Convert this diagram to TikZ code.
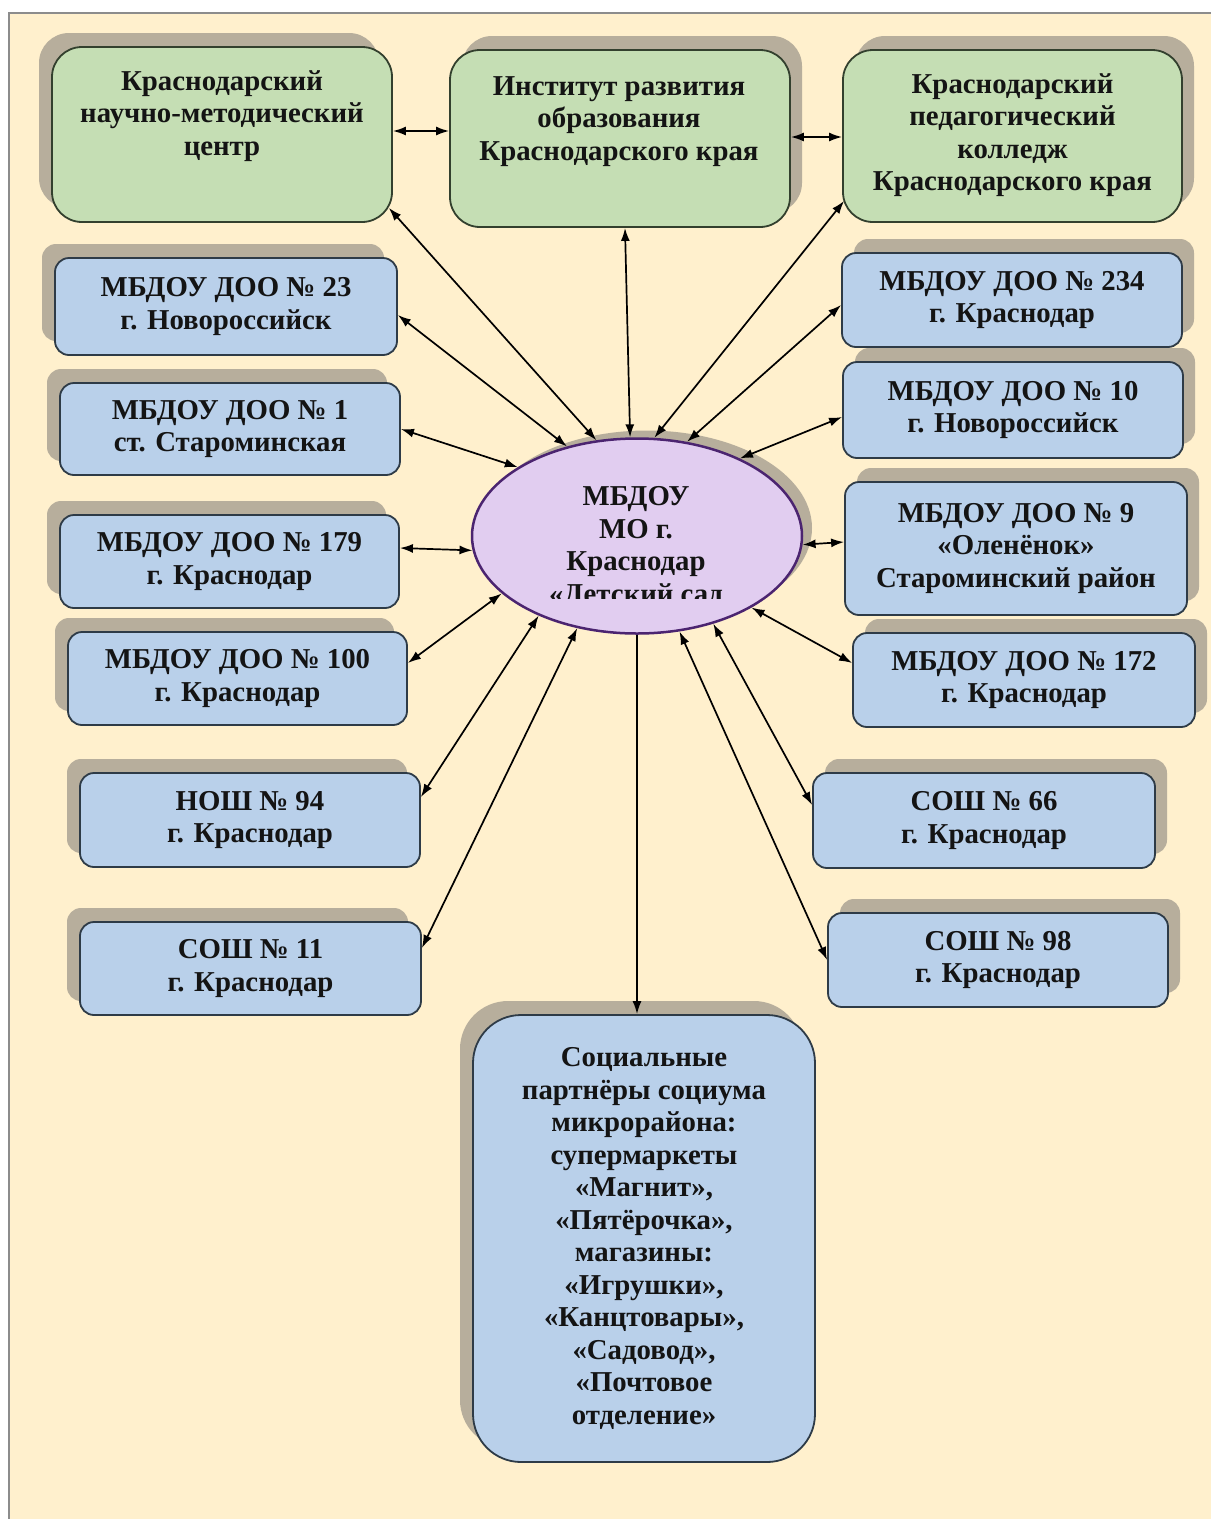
\documentclass[tikz,border=0pt]{standalone}
\usepackage{fontspec}
\setmainfont{Liberation Serif}
\usetikzlibrary{arrows.meta,shapes.geometric,shadows}
\definecolor{cream}{HTML}{FFF0CD}
\definecolor{framec}{HTML}{8C8C8C}
\definecolor{greenf}{HTML}{C5DEB4}
\definecolor{bluef}{HTML}{B9D0EA}
\definecolor{lavf}{HTML}{E1CDF0}
\definecolor{purpled}{HTML}{4B2470}
\definecolor{shadowc}{HTML}{B7AE9C}
\definecolor{edgec}{HTML}{33402E}
\definecolor{bedge}{HTML}{2E3B47}
\definecolor{txtc}{HTML}{141414}
\tikzset{
  lbl/.style={font=\bfseries\fontsize{28.8}{32.5}\selectfont, text=txtc, align=center, inner sep=0pt},
  greenbox/.style={draw=edgec, line width=1.8pt, fill=greenf, rounded corners=30pt, inner sep=0pt},
  bluebox/.style={draw=bedge, line width=1.8pt, fill=bluef, rounded corners=14pt, inner sep=0pt,
    font=\bfseries\fontsize{28.8}{32.5}\selectfont, text=txtc, align=center},
  shL/.style={general shadow={fill=shadowc, shadow xshift=-13pt, shadow yshift=14pt}},
  shR/.style={general shadow={fill=shadowc, shadow xshift=12pt, shadow yshift=14pt}},
  link/.style={line width=1.7pt, draw=black, {Latex[length=13pt,width=9pt]}-{Latex[length=13pt,width=9pt]}},
  linkone/.style={line width=1.7pt, draw=black, -{Latex[length=13pt,width=9pt]}},
}
\begin{document}
\begin{tikzpicture}[x=1pt,y=-1pt]
\useasboundingbox (0,0) rectangle (1211,1519);
\fill[white] (0,0) rectangle (1211,1519);
\fill[cream] (9,13) rectangle (1211,1519);
\draw[framec, line width=2pt] (9,1519) -- (9,13) -- (1211,13);

% green boxes
\node[greenbox, shL, minimum width=340, minimum height=175] (knmc) at (222,134.5) {};
\node[lbl, anchor=base] (knmct) at (222,155) {Краснодарский\\научно-методический\\центр};
\node[greenbox, shR, minimum width=340, minimum height=177] (iro) at (620,138.5) {};
\node[lbl, anchor=base] (irot) at (619,160) {Институт развития\\образования\\Краснодарского края};
\node[greenbox, shR, minimum width=339, minimum height=172] (kpk) at (1012.5,136) {};
\node[lbl, anchor=base] (kpkt) at (1012.5,190.5) {Краснодарский\\педагогический\\колледж\\Краснодарского края};

% left blue boxes
\node[bluebox, shL, minimum width=342, minimum height=97] (b23) at (226,306.5) {МБДОУ ДОО № 23\\г. Новороссийск};
\node[bluebox, shL, minimum width=340, minimum height=92] (b1) at (230,429) {МБДОУ ДОО № 1\\ст. Староминская};
\node[bluebox, shL, minimum width=339, minimum height=93] (b179) at (229.5,561.5) {МБДОУ ДОО № 179\\г. Краснодар};
\node[bluebox, shL, minimum width=339, minimum height=93] (b100) at (237.5,678.5) {МБДОУ ДОО № 100\\г. Краснодар};
\node[bluebox, shL, minimum width=340, minimum height=94] (n94) at (250,820) {НОШ № 94\\г. Краснодар};
\node[bluebox, shL, minimum width=341, minimum height=93] (s11) at (250.5,968.5) {СОШ № 11\\г. Краснодар};

% right blue boxes
\node[bluebox, shR, minimum width=340, minimum height=94] (b234) at (1012,300) {МБДОУ ДОО № 234\\г. Краснодар};
\node[bluebox, shR, minimum width=340, minimum height=96] (b10) at (1013,410) {МБДОУ ДОО № 10\\г. Новороссийск};
\node[bluebox, shR, minimum width=342, minimum height=133] (b9) at (1016,548.5) {МБДОУ ДОО № 9\\«Оленёнок»\\Староминский район};
\node[bluebox, shR, minimum width=342, minimum height=94] (b172) at (1024,680) {МБДОУ ДОО № 172\\г. Краснодар};
\node[bluebox, shR, minimum width=342, minimum height=95] (s66) at (984,820.5) {СОШ № 66\\г. Краснодар};
\node[bluebox, shR, minimum width=340, minimum height=94] (s98) at (998,960) {СОШ № 98\\г. Краснодар};

% bottom box
\node[bluebox, shL, rounded corners=48pt, minimum width=342, minimum height=447] (soc) at (644,1238.5)
  {Социальные\\партнёры социума\\микрорайона:\\супермаркеты\\«Магнит»,\\«Пятёрочка»,\\магазины:\\«Игрушки»,\\«Канцтовары»,\\«Садовод»,\\«Почтовое\\отделение»};

% centre ellipse
\node[ellipse, draw=purpled, line width=2.5pt, fill=lavf, minimum width=330, minimum height=195, inner sep=0pt,
  general shadow={fill=shadowc, shadow xshift=10pt, shadow yshift=8pt}] (c) at (637,536) {};
\begin{scope}
\clip (470,440) rectangle (805,598);
\node[lbl, anchor=base] (ct) at (636,603) {МБДОУ\\МО г.\\Краснодар\\«Детский сад};
\end{scope}

% connectors
\draw[link] ([yshift=3.5pt]knmc.east) -- ([yshift=7.5pt]iro.west);
\draw[link] ([yshift=1.5pt]iro.east) -- ([yshift=-1pt]kpk.west);
\draw[link] ([xshift=-4pt,yshift=15pt]knmc.south east) -- (c.113);
\draw[link] ([xshift=5pt]iro.south) -- (c.94);
\draw[link] ([xshift=2pt,yshift=22pt]kpk.south west) -- (c.80);
\draw[link] ([yshift=-8.5pt]b23.east) -- (c.128);
\draw[link] (b1.east) -- (c.150);
\draw[link] ([yshift=13.5pt]b179.east) -- (c.185);
\draw[link] ([yshift=15.5pt]b100.east) -- (c.203);
\draw[link] ([yshift=23pt]n94.east) -- (c.219);
\draw[link] ([yshift=20.5pt]s11.east) -- (c.237);
\draw[link] ([yshift=-5pt]b234.west) -- (c.62);
\draw[link] ([yshift=-7pt]b10.west) -- (c.37);
\draw[link] ([yshift=6.5pt]b9.west) -- (c.-3);
\draw[link] ([yshift=17pt]b172.west) -- (c.-32);
\draw[link] ([yshift=15.5pt]s66.west) -- (c.-49);
\draw[link] (s98.west) -- (c.-66);
\draw[linkone] (c.south) -- (c.south |- soc.north);
\end{tikzpicture}
\end{document}
